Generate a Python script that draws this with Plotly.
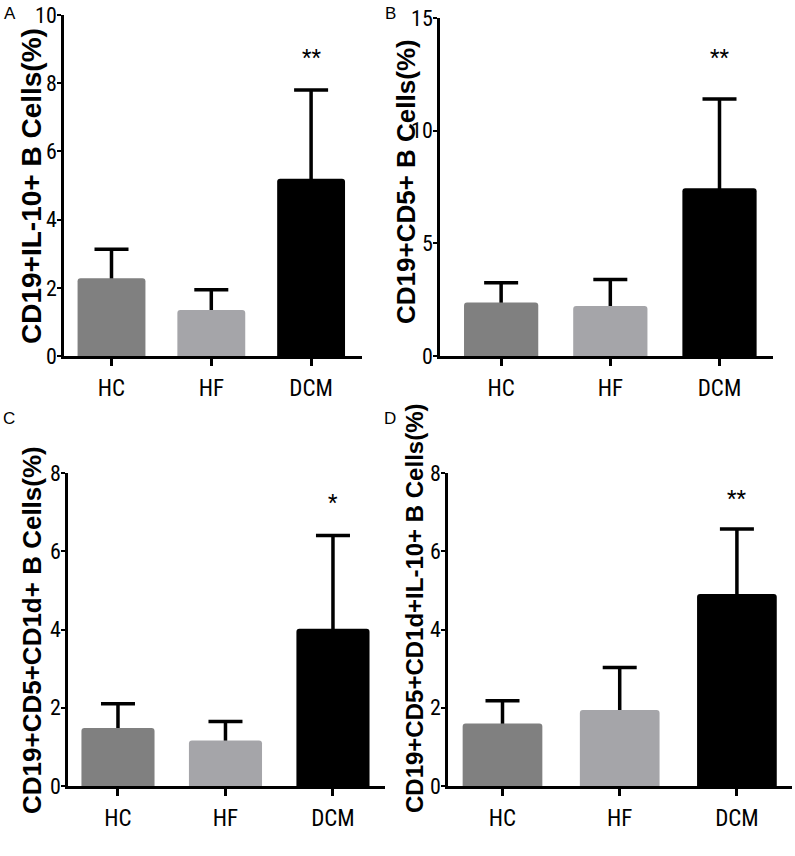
import plotly.graph_objects as go

# ---------------- data ----------------
groups = ["HC", "HF", "DCM"]

mean_a = [2.28, 1.35, 5.20]
sd_a = [0.85, 0.59, 2.60]

mean_b = [2.37, 2.22, 7.44]
sd_b = [0.88, 1.18, 3.96]

mean_c = [1.48, 1.16, 4.02]
sd_c = [0.62, 0.49, 2.38]

mean_d = [1.60, 1.94, 4.91]
sd_d = [0.58, 1.09, 1.66]

y_titles = [
    "CD19+IL-10+ B Cells(%)",
    "CD19+CD5+ B Cells(%)",
    "CD19+CD5+CD1d+ B Cells(%)",
    "CD19+CD5+CD1d+IL-10+ B Cells(%)",
]
significance = ["**", "**", "*", "**"]
panel_letters = ["A", "B", "C", "D"]
y_max = [10, 15, 8, 8]
y_step = [2, 5, 2, 2]

means = [mean_a, mean_b, mean_c, mean_d]
sds = [sd_a, sd_b, sd_c, sd_d]

# ---------------- style / layout ----------------
W, H = 795, 856
bar_colors = ["#808080", "#a5a5a9", "#000000"]
narrow = "Liberation Sans Narrow, Arial Narrow, Roboto Condensed, DejaVu Sans Condensed, sans-serif"
bold_font = "Liberation Sans, Arial, sans-serif"

# panel pixel boxes: (left, right, top, bottom) of plotting area
boxes = [
    (64, 362, 15, 356),
    (440, 773, 18, 356),
    (68, 385, 473, 786),
    (448, 792, 473, 786),
]
x_ranges = [[-0.476, 2.51], [-0.56, 2.49], [-0.465, 2.484], [-0.465, 2.47]]
title_pos = [(31, 186), (406, 182), (32, 630), (414, 609)]
title_size = [28, 26, 26, 24]
letter_pos = [(10, 14), (390, 14), (9, 419), (390, 419)]
star_shift = [33, 42, 33, 30]

fig = go.Figure()

for i in range(4):
    n = "" if i == 0 else str(i + 1)
    xa, ya = "x" + n, "y" + n
    # carrier trace for error bars (mean ± SD); lower half hidden behind bars
    fig.add_trace(go.Bar(
        x=groups, y=means[i], width=0.68,
        marker=dict(color="rgba(0,0,0,0)", line=dict(width=0)),
        error_y=dict(type="data", array=sds[i], symmetric=True,
                     color="black", thickness=3.5, width=17),
        xaxis=xa, yaxis=ya, showlegend=False, hoverinfo="skip",
    ))
    fig.add_trace(go.Bar(
        x=groups, y=means[i], width=0.68,
        marker=dict(color=bar_colors, line=dict(width=0), cornerradius=3),
        xaxis=xa, yaxis=ya, showlegend=False,
    ))

    l, r, t, b = boxes[i]
    fig.layout["xaxis" + n] = dict(
        domain=[l / W, r / W], anchor=ya, type="category", automargin=False,
        range=x_ranges[i], showline=True, linecolor="black", linewidth=2.5,
        ticks="outside", ticklen=7, tickwidth=2.5, tickcolor="black",
        tickfont=dict(family=narrow, size=23, color="black"),
        ticklabelstandoff=3,
        showgrid=False, zeroline=False, fixedrange=True,
    )
    fig.layout["yaxis" + n] = dict(
        domain=[1 - b / H, 1 - t / H], anchor=xa, automargin=False,
        range=[0, y_max[i]], dtick=y_step[i], tick0=0,
        showline=True, linecolor="black", linewidth=2.5,
        ticks="outside", ticklen=4, tickwidth=2, tickcolor="black",
        tickfont=dict(family=narrow, size=22, color="black"),
        ticklabelstandoff=-4,
        showgrid=False, zeroline=False, fixedrange=True,
    )

    tx, ty = title_pos[i]
    fig.add_annotation(
        x=tx / W, y=1 - ty / H, xref="paper", yref="paper",
        text="<b>" + y_titles[i] + "</b>", textangle=-90, showarrow=False,
        font=dict(family=bold_font, size=title_size[i], color="black"),
        xanchor="center", yanchor="middle",
    )
    lx, ly = letter_pos[i]
    fig.add_annotation(
        x=lx / W, y=1 - ly / H, xref="paper", yref="paper",
        text=panel_letters[i], showarrow=False,
        font=dict(family="Liberation Sans, Arial, sans-serif", size=17, color="black"),
        xanchor="center", yanchor="middle",
    )
    top_val = means[i][2] + sds[i][2]
    fig.add_annotation(
        x=groups[2], y=top_val, xref=xa, yref=ya,
        text=significance[i], showarrow=False, yshift=star_shift[i],
        font=dict(family=narrow, size=22, color="black"),
        xanchor="center", yanchor="middle",
    )

fig.update_layout(
    width=W, height=H,
    margin=dict(l=0, r=0, t=0, b=0, autoexpand=False),
    paper_bgcolor="white", plot_bgcolor="white",
    barmode="overlay", showlegend=False,
)

fig.write_html(
    "out.html",
    config={"displayModeBar": False},
    post_script="document.body.style.margin='0';document.body.style.padding='0';"
                "document.documentElement.style.overflow='hidden';",
)
